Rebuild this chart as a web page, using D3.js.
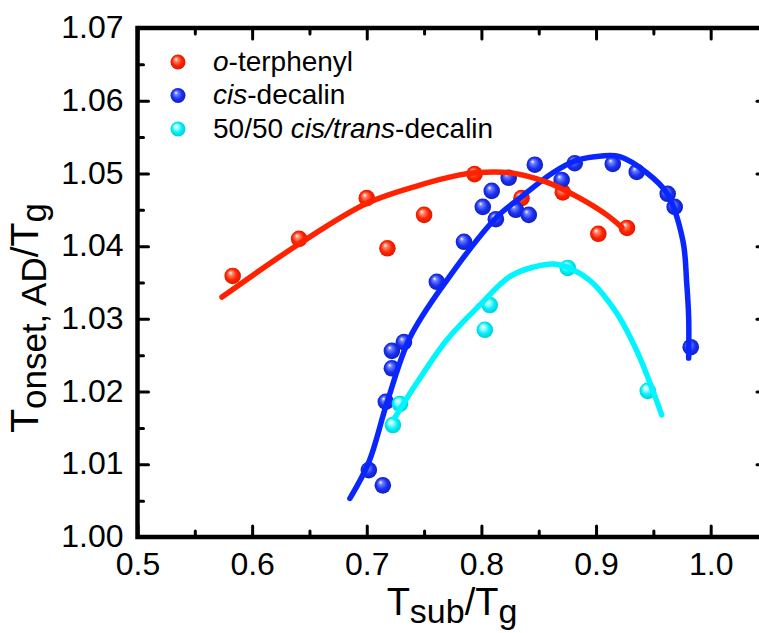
<!DOCTYPE html>
<html>
<head>
<meta charset="utf-8">
<title>Tonset vs Tsub</title>
<script src="https://cdn.jsdelivr.net/npm/d3@7"></script>
<style>
  body { margin: 0; background: #fff; }
  svg { display: block; font-family: "Liberation Sans", Arial, sans-serif; }
  .tick line { stroke: #000; stroke-width: 3; stroke-linecap: round; }
  .tick text { font-size: 32px; fill: #000; font-family: "Liberation Sans", Arial, sans-serif; }
</style>
</head>
<body>
<div id="chart"></div>
<script>
// measured points
var otpX = [0.583, 0.641, 0.700, 0.718, 0.750, 0.794, 0.835, 0.871, 0.902, 0.927];
var otpY = [1.0359, 1.0410, 1.0466, 1.0397, 1.0443, 1.0499, 1.0466, 1.0474, 1.0417, 1.0425];

var cisX = [0.7018, 0.7140, 0.7166, 0.7219, 0.7219, 0.7324, 0.7611, 0.7848, 0.8012, 0.8090,
            0.8126, 0.8238, 0.8300, 0.8413, 0.8466, 0.8700, 0.8814, 0.9146, 0.9355, 0.9625,
            0.9686, 0.9826];
var cisY = [1.0092, 1.0071, 1.0186, 1.0232, 1.0256, 1.0268, 1.0351, 1.0406, 1.0454, 1.0476,
            1.0437, 1.0494, 1.0450, 1.0443, 1.0512, 1.0491, 1.0514, 1.0513, 1.0502, 1.0472,
            1.0454, 1.0261];

var mixX = [0.7228, 0.7289, 0.8030, 0.8073, 0.8753, 0.9451];
var mixY = [1.0154, 1.0183, 1.0285, 1.0319, 1.0370, 1.0201];

// fitted curves
var otpFitX = [0.5737, 0.6408, 0.7001, 0.7463, 0.7812, 0.7943, 0.8248, 0.8570, 0.8858, 0.9093, 0.9224];
var otpFitY = [1.0330, 1.0403, 1.0459, 1.0484, 1.0498, 1.0501, 1.0501, 1.0488, 1.0466, 1.0443, 1.0426];

var cisFitX = [0.6853, 0.7018, 0.7175, 0.7376, 0.7698, 0.8134, 0.8335, 0.8623, 0.8832, 0.9050,
               0.9207, 0.9442, 0.9617, 0.9757, 0.9791, 0.9808, 0.9808];
var cisFitY = [1.0053, 1.0103, 1.0184, 1.0274, 1.0353, 1.0440, 1.0466, 1.0501, 1.0518, 1.0524,
               1.0523, 1.0501, 1.0473, 1.0408, 1.0349, 1.0302, 1.0246];

var mixFitX = [0.7245, 0.7437, 0.7698, 0.7986, 0.8247, 0.8448, 0.8657, 0.8945, 0.9145, 0.9233,
               0.9381, 0.9494, 0.9573];
var mixFitY = [1.0164, 1.0212, 1.0271, 1.0319, 1.0358, 1.0371, 1.0375, 1.0353, 1.0316, 1.0294,
               1.0247, 1.0202, 1.0168];

var xTicks = [0.5, 0.6, 0.7, 0.8, 0.9, 1.0];
var xMinor = [0.55, 0.65, 0.75, 0.85, 0.95, 1.05];
var yTicks = [1.00, 1.01, 1.02, 1.03, 1.04, 1.05, 1.06, 1.07];
var yMinor = [1.005, 1.015, 1.025, 1.035, 1.045, 1.055, 1.065];

var W = 759, H = 633;
var pL = 137.5, pR = 768, pT = 28, pB = 537;

var svg = d3.select("#chart").append("svg")
  .attr("width", W).attr("height", H);

var x = d3.scaleLinear().domain([0.5, 1.05]).range([pL, pR]);
var y = d3.scaleLinear().domain([1.00, 1.07]).range([pB, pT]);

var defs = svg.append("defs");
function sphere(id, light, base, dark) {
  var g = defs.append("radialGradient").attr("id", id)
    .attr("cx", "50%").attr("cy", "50%").attr("r", "55%")
    .attr("fx", "35%").attr("fy", "30%");
  g.append("stop").attr("offset", "0%").attr("stop-color", "#ffffff");
  g.append("stop").attr("offset", "22%").attr("stop-color", light);
  g.append("stop").attr("offset", "60%").attr("stop-color", base);
  g.append("stop").attr("offset", "100%").attr("stop-color", dark);
}
sphere("gRed", "#ff8a70", "#ff2200", "#d81800");
sphere("gBlue", "#7080ff", "#1a30f0", "#0c1cb8");
sphere("gCyan", "#b0ffff", "#00f0f5", "#00c8d0");

// axes: all four sides, ticks pointing in
function drawAxis(axisFn, scale, vals, size, pad, tf, transform, showLabels) {
  var a = axisFn(scale).tickValues(vals).tickSizeInner(size).tickSizeOuter(0).tickPadding(pad);
  a.tickFormat(showLabels ? tf : "");
  var g = svg.append("g").attr("transform", transform).call(a);
  g.select(".domain").remove();
  return g;
}
var fx = d3.format(".1f"), fy = d3.format(".2f");
drawAxis(d3.axisBottom, x, xTicks, -11, 15, fx, "translate(0," + pB + ")", true);
drawAxis(d3.axisBottom, x, xMinor, -6, 15, fx, "translate(0," + pB + ")", false);
drawAxis(d3.axisTop, x, xTicks, -11, 0, fx, "translate(0," + pT + ")", false);
drawAxis(d3.axisTop, x, xMinor, -6, 0, fx, "translate(0," + pT + ")", false);
drawAxis(d3.axisLeft, y, yTicks, -11, 14, fy, "translate(" + pL + ",0)", true)
  .selectAll("text").attr("dy", "0.30em");
drawAxis(d3.axisLeft, y, yMinor, -6, 14, fy, "translate(" + pL + ",0)", false);
drawAxis(d3.axisRight, y, yTicks, -11, 0, fy, "translate(" + pR + ",0)", false);
drawAxis(d3.axisRight, y, yMinor, -6, 0, fy, "translate(" + pR + ",0)", false);

svg.append("rect")
  .attr("x", pL).attr("y", pT)
  .attr("width", pR - pL).attr("height", pB - pT)
  .attr("fill", "none").attr("stroke", "#000").attr("stroke-width", 4.5);

// points
function points(xs, ys, fill) {
  svg.append("g").selectAll("circle")
    .data(xs.map(function (d, i) { return [d, ys[i]]; }))
    .enter().append("circle")
    .attr("cx", function (d) { return x(d[0]); })
    .attr("cy", function (d) { return y(d[1]); })
    .attr("r", 8.3)
    .attr("fill", fill);
}
points(otpX, otpY, "url(#gRed)");
points(cisX, cisY, "url(#gBlue)");
points(mixX, mixY, "url(#gCyan)");

// fit lines
var line = d3.line()
  .x(function (d) { return x(d[0]); })
  .y(function (d) { return y(d[1]); })
  .curve(d3.curveCatmullRom.alpha(0.5));
function fit(xs, ys, color) {
  svg.append("path")
    .datum(xs.map(function (d, i) { return [d, ys[i]]; }))
    .attr("d", line)
    .attr("fill", "none")
    .attr("stroke", color)
    .attr("stroke-width", 5.5)
    .attr("stroke-linecap", "round");
}
fit(cisFitX, cisFitY, "#0a26ff");
fit(mixFitX, mixFitY, "#00f5ff");
fit(otpFitX, otpFitY, "#ff2200");

// legend
var legend = [
  { fill: "url(#gRed)", parts: [["o", true], ["-terphenyl", false]] },
  { fill: "url(#gBlue)", parts: [["cis", true], ["-decalin", false]] },
  { fill: "url(#gCyan)", parts: [["50/50 ", false], ["cis/trans", true], ["-decalin", false]] }
];
var lg = svg.append("g");
legend.forEach(function (d, i) {
  var cy = 62 + i * 33.5;
  lg.append("circle").attr("cx", 178).attr("cy", cy).attr("r", 7.5).attr("fill", d.fill);
  var t = lg.append("text").attr("x", 213).attr("y", cy + 8.5)
    .attr("font-size", 28).attr("fill", "#000");
  d.parts.forEach(function (p) {
    t.append("tspan").text(p[0]).attr("font-style", p[1] ? "italic" : "normal");
  });
});

// axis titles
var xt = svg.append("text")
  .attr("x", 452).attr("y", 615)
  .attr("text-anchor", "middle")
  .attr("font-size", 38);
xt.append("tspan").text("T");
xt.append("tspan").text("sub").attr("font-size", 34).attr("dy", 8);
xt.append("tspan").text("/T").attr("dy", -8);
xt.append("tspan").text("g").attr("font-size", 34).attr("dy", 8);

var yt = svg.append("text")
  .attr("transform", "translate(38,318) rotate(-90)")
  .attr("text-anchor", "middle")
  .attr("font-size", 39);
yt.append("tspan").text("T");
yt.append("tspan").text("onset, AD").attr("font-size", 35).attr("dy", 8);
yt.append("tspan").text("/T").attr("dy", -8);
yt.append("tspan").text("g").attr("font-size", 35).attr("dy", 8);
</script>
</body>
</html>
